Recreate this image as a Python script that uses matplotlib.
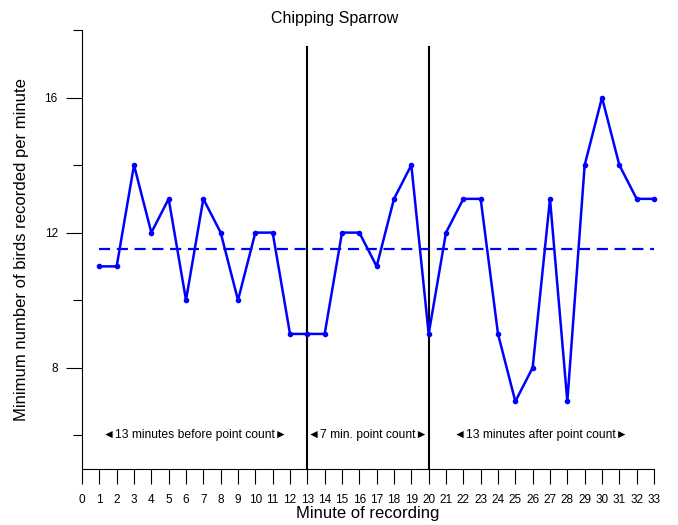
import matplotlib
matplotlib.use("Agg")
import matplotlib.pyplot as plt
import numpy as np

plt.rcParams["font.family"] = ["Liberation Sans", "DejaVu Sans"]

BLUE = "#0000FF"

minutes = list(range(1, 34))
birds = [11, 11, 14, 12, 13, 10, 13, 12, 10, 12, 12, 9, 9,
         9, 12, 12, 11, 13, 14, 9,
         12, 13, 13, 9, 7, 8, 13, 7, 14, 16, 14, 13, 13]
mean_birds = np.mean(birds)
count_start, count_end = 13, 20
period_labels = ["\u25c413 minutes before point count\u25ba",
                 "\u25c47 min. point count\u25ba",
                 "\u25c413 minutes after point count\u25ba"]
period_x = [6.5, 16.5, 26.5]
y_major = [8, 12, 16]
y_minor = [6, 10, 14, 18]

fig = plt.figure(figsize=(6.78, 5.25), dpi=100)
ax = fig.add_axes([82 / 678, 56 / 525, 572 / 678, 439 / 525])

ax.plot(minutes, birds, color=BLUE, linewidth=1.8, marker="o", markersize=3,
        clip_on=False, zorder=4)
ax.plot([minutes[0], minutes[-1]], [mean_birds, mean_birds], color=BLUE,
        linewidth=1.6, linestyle=(0, (5, 3)), zorder=3)

for xv in (count_start, count_end):
    ax.plot([xv, xv], [5, 17.5], color="black", linewidth=1.5, clip_on=False, zorder=2)

for lab, xv in zip(period_labels, period_x):
    ax.text(xv, 6, lab, ha="center", va="center", fontsize=8.7)

ax.set_xlim(0, 33)
ax.set_ylim(5, 18)
ax.set_xticks(range(0, 34))
ax.set_yticks(y_major)
ax.set_yticks(y_minor, minor=True)
ax.tick_params(axis="x", length=11, width=0.8, labelsize=8.5, pad=7)
ax.tick_params(axis="y", which="major", length=11.5, width=0.8, labelsize=8.5, pad=6)
ax.tick_params(axis="y", which="minor", length=6.5, width=0.8)

for s in ("top", "right"):
    ax.spines[s].set_visible(False)
ax.spines["left"].set_linewidth(0.8)
ax.spines["bottom"].set_linewidth(0.8)

ax.set_xlabel("Minute of recording", fontsize=12, labelpad=0)
ax.set_ylabel("Minimum number of birds recorded per minute", fontsize=12, labelpad=11)
fig.text(335 / 678, 1 - 18 / 525, "Chipping Sparrow", ha="center", va="center", fontsize=11.5)

fig.savefig("out.png", dpi=100, facecolor="white")
